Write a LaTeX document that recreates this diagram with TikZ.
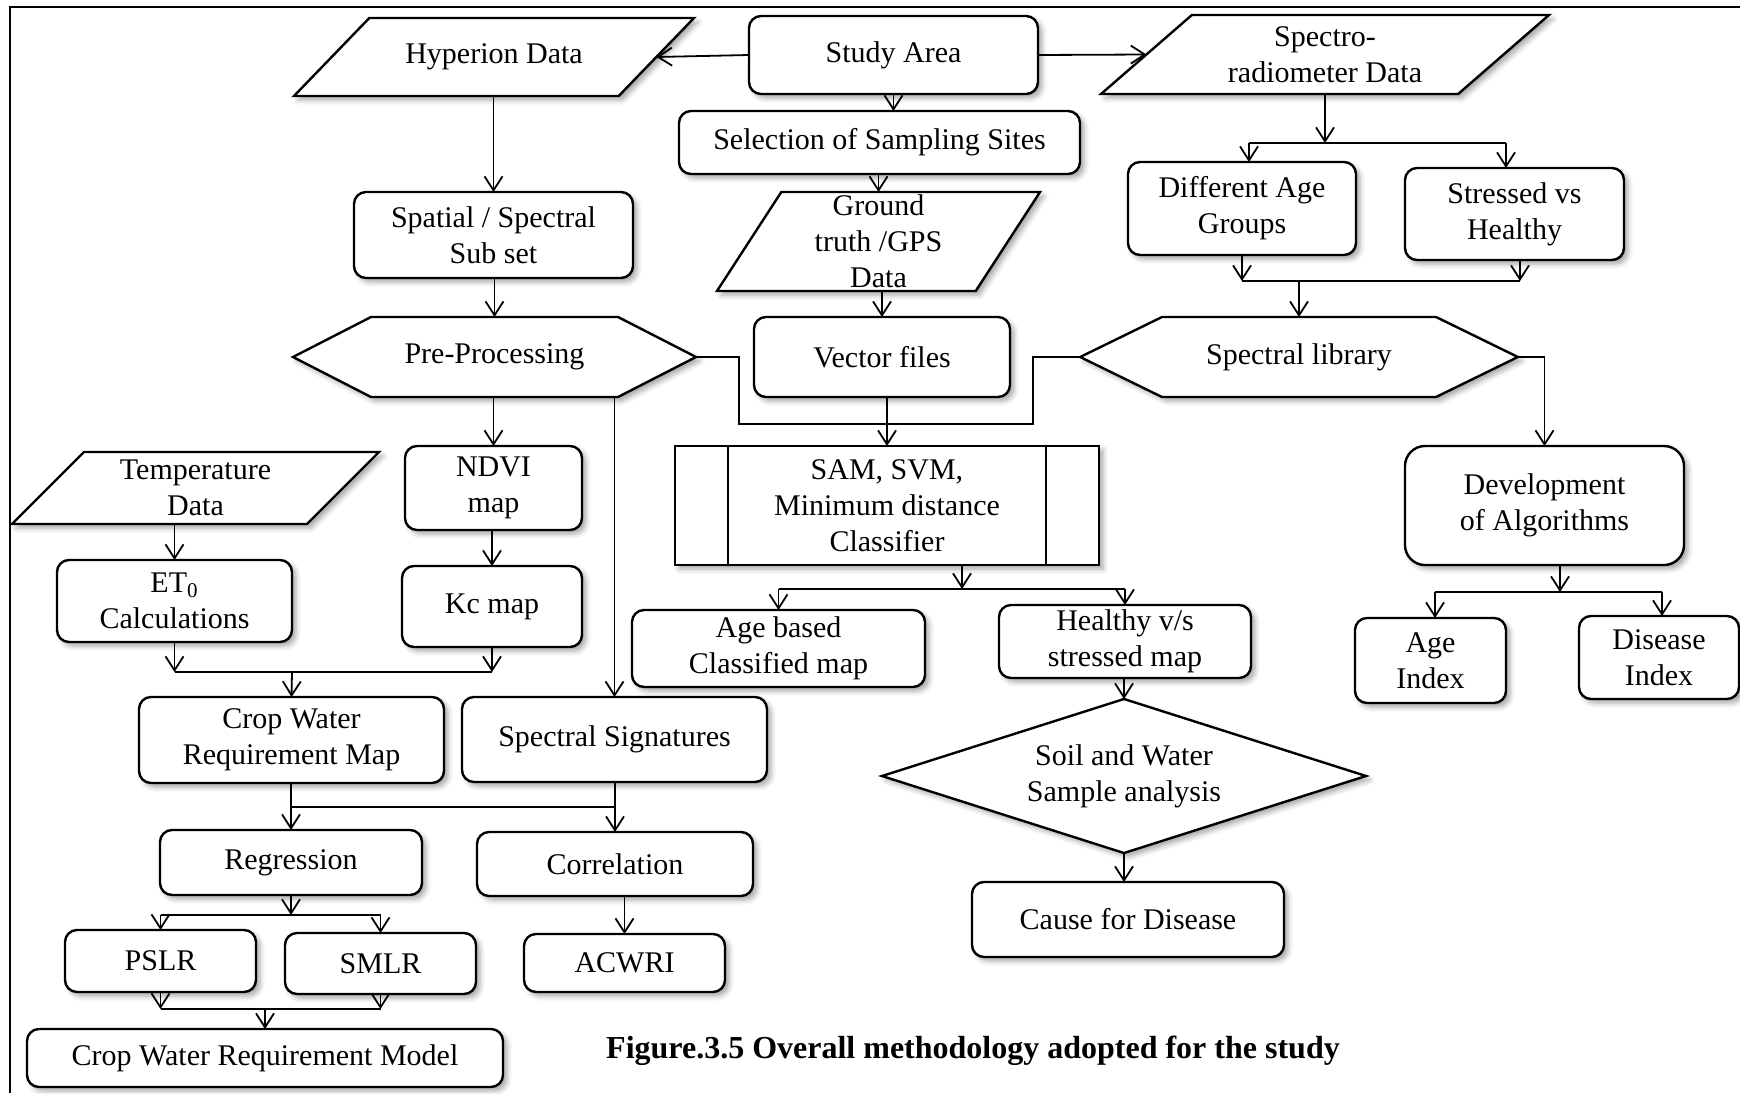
\documentclass[tikz,border=0pt]{standalone}
\usepackage{fontspec}
\setmainfont{Liberation Serif}
\usetikzlibrary{arrows.meta, shapes.geometric, shapes.symbols, shadows.blur}

\begin{document}
\begin{tikzpicture}[x=0.5pt,y=-0.5pt,font=\fontsize{15}{18}\selectfont,
>={Straight Barb[length=7pt,width=9pt]},
conn/.style={line width=0.9pt},
shad/.style={blur shadow={shadow xshift=2pt,shadow yshift=-2pt,shadow blur radius=2.5pt,shadow opacity=35}},
box/.style={draw,line width=1.2pt,fill=white,rounded corners=6pt,align=center,inner sep=2pt,outer sep=0pt,shad},
data/.style={draw,line width=1.2pt,fill=white,trapezium,trapezium stretches body,inner sep=0pt,outer sep=0pt,text height=#1,text depth=0pt,shad},
hexa/.style={draw,line width=1.2pt,fill=white,signal,signal to=west and east,inner sep=0pt,outer sep=0pt,text height=40pt,text depth=0pt,text width=#1,shad},
process/.style={draw,line width=1.2pt,fill=white,align=center,inner sep=2pt,outer sep=0pt,shad}]
\useasboundingbox (0,0) rectangle (1740,1093);
\draw[line width=1.2pt] (10,1093) -- (10,7) -- (1740,7);

% top row
\node[data=39pt,trapezium left angle=46,trapezium right angle=134,minimum width=200pt,label={center:Hyperion Data}] (hyperion) at (494,57) {};
\node[box,minimum width=144.5pt,minimum height=39pt] (study) at (893.5,55) {Study Area};
\node[data=39.5pt,trapezium left angle=41,trapezium right angle=139,minimum width=224pt,label={[align=center]center:Spectro-\\radiometer Data}] (spectro) at (1325,54.5) {};
\node[box,minimum width=200.5pt,minimum height=31.5pt] (select) at (879.5,142.5) {Selection of Sampling Sites};
\node[box,minimum width=139.5pt,minimum height=43pt] (spatial) at (493.5,235) {Spatial / Spectral\\Sub set};
\node[data=49.5pt,trapezium left angle=57,trapezium right angle=123,minimum width=161.5pt,label={[align=center]center:Ground\\truth /GPS\\Data}] (ground) at (878.5,241.5) {};
\node[box,minimum width=114pt,minimum height=46.5pt] (diffage) at (1242,208.5) {Different Age\\Groups};
\node[box,minimum width=109.5pt,minimum height=46pt] (stressed) at (1514.5,214) {Stressed vs\\Healthy};

% middle row
\node[hexa=123.5pt,signal pointer angle=54.3,label={center:Pre-Processing}] (pre) at (494.5,357) {};
\node[box,minimum width=128pt,minimum height=40pt] (vector) at (882,357) {Vector files};
\node[hexa=137pt,signal pointer angle=52.1,label={center:Spectral library}] (speclib) at (1299,357) {};
\node[process,minimum width=212pt,minimum height=59.5pt] (sam) at (887,505.5) {SAM, SVM,\\Minimum distance\\Classifier};
\draw[line width=1.2pt] ([xshift=26.5pt]sam.north west) -- ([xshift=26.5pt]sam.south west)
([xshift=-26.5pt]sam.north east) -- ([xshift=-26.5pt]sam.south east);
\node[data=36pt,trapezium left angle=45,trapezium right angle=135,minimum width=183.5pt,label={[align=center]center:Temperature\\Data}] (temp) at (195.5,488) {};
\node[box,minimum width=88.5pt,minimum height=42pt] (ndvi) at (493.5,488) {NDVI\\map};
\node[box,minimum width=117.5pt,minimum height=41pt] (et0) at (174.5,601) {ET\textsubscript{0}\\Calculations};
\node[box,minimum width=90pt,minimum height=40.5pt] (kc) at (492,606.5) {Kc map};
\node[box,minimum width=146.5pt,minimum height=38.5pt] (agebased) at (778.5,648.5) {Age based\\Classified map};
\node[box,minimum width=126pt,minimum height=36.5pt] (healthy) at (1125,641.5) {Healthy v/s\\stressed map};
\node[box,rounded corners=10pt,minimum width=139.5pt,minimum height=59.5pt] (devalg) at (1544.5,505.5) {Development\\of Algorithms};
\node[box,minimum width=75.5pt,minimum height=42.5pt] (ageidx) at (1430.5,660.5) {Age\\Index};
\node[box,minimum width=80pt,minimum height=41.5pt] (disidx) at (1659,657.5) {Disease\\Index};

% bottom part
\node[box,minimum width=152.5pt,minimum height=43pt] (cwrmap) at (291.5,740) {Crop Water\\Requirement Map};
\node[box,minimum width=152.5pt,minimum height=42.5pt] (specsig) at (614.5,739.5) {Spectral Signatures};
\node[draw,line width=1.2pt,fill=white,diamond,shape aspect=3.1,align=center,inner sep=0pt,outer sep=0pt,shad,minimum width=242pt,minimum height=77pt] (soil) at (1124,776) {Soil and Water\\Sample analysis};
\node[box,minimum width=131pt,minimum height=32.5pt] (regr) at (291,862.5) {Regression};
\node[box,minimum width=138pt,minimum height=32pt] (corr) at (615,864) {Correlation};
\node[box,minimum width=95.5pt,minimum height=31pt] (pslr) at (160.5,961) {PSLR};
\node[box,minimum width=95.5pt,minimum height=30.5pt] (smlr) at (380.5,963.5) {SMLR};
\node[box,minimum width=100.5pt,minimum height=29pt] (acwri) at (624.5,963) {ACWRI};
\node[box,minimum width=238pt,minimum height=29pt] (cwrmodel) at (265,1058) {Crop Water Requirement Model};
\node[box,minimum width=156pt,minimum height=37.5pt] (cause) at (1128,919.5) {Cause for Disease};
\node[font=\fontsize{16}{19}\selectfont\bfseries] (caption) at (973,1051) {Figure.3.5 Overall methodology adopted for the study};

% straight arrows
\draw[conn,->] (study.west) -- (hyperion.east);
\draw[conn,->] (study.east) -- (spectro.west);
\draw[conn,->] (study.south) -- (study.south |- select.north);
\foreach \a/\b in {select/ground,ground/vector,vector/sam,hyperion/spatial,spatial/pre,pre/ndvi,ndvi/kc,pre/specsig,temp/et0,cwrmap/regr,specsig/corr,corr/acwri,healthy/soil}
\draw[conn,->] (\b.north |- \a.south) -- (\b.north);
\draw[conn,->] (soil.south) -- (soil.south |- cause.north);

% joins into the classifier
\coordinate (j1) at (739,424);
\coordinate (j2) at (1033,424);
\draw[conn] (pre.east) -| (j1) -- (j2) |- (speclib.west);
\draw[conn,->] (speclib.east) -| (devalg.north);

% spectroradiometer split and merge
\coordinate (s1) at (1249,143);
\coordinate (s2) at (1506,143);
\draw[conn,->] (spectro.south) -- (spectro.south |- s1);
\draw[conn] (s1) -- (s2);
\draw[conn,->] (s1) -- (s1 |- diffage.north);
\draw[conn,->] (s2) -- (s2 |- stressed.north);
\coordinate (g1) at (1242,281);
\coordinate (g2) at (1520,281);
\draw[conn,->] (diffage.south) -- (diffage.south |- g1);
\draw[conn,->] (g2 |- stressed.south) -- (g2);
\draw[conn] (diffage.south |- g1) -- (g2);
\draw[conn,->] (speclib.north |- g1) -- (speclib.north);

% classifier outputs
\coordinate (c1) at (962,589);
\draw[conn,->] (c1 |- sam.south) -- (c1);
\draw[conn] (agebased.north |- c1) -- (healthy.north |- c1);
\draw[conn,->] (agebased.north |- c1) -- (agebased.north);
\draw[conn,->] (healthy.north |- c1) -- (healthy.north);

% indices
\coordinate (d1) at (1560,592);
\coordinate (d2) at (1435,592);
\coordinate (d3) at (1662,592);
\draw[conn,->] (d1 |- devalg.south) -- (d1);
\draw[conn] (d2) -- (d3);
\draw[conn,->] (d2) -- (d2 |- ageidx.north);
\draw[conn,->] (d3) -- (d3 |- disidx.north);

% crop water side
\coordinate (e1) at (292,672);
\draw[conn,->] (et0.south) -- (et0.south |- e1);
\draw[conn,->] (kc.south) -- (kc.south |- e1);
\draw[conn] (et0.south |- e1) -- (kc.south |- e1);
\draw[conn,->] (e1) -- (cwrmap.north);
\coordinate (f1) at (292,807);
\draw[conn] (f1) -- (specsig.south |- f1);
\coordinate (r1) at (291,915);
\draw[conn,->] (regr.south) -- (r1);
\draw[conn] (pslr.north |- r1) -- (smlr.north |- r1);
\draw[conn,->] (pslr.north |- r1) -- (pslr.north);
\draw[conn,->] (smlr.north |- r1) -- (smlr.north);
\coordinate (p1) at (265,1009);
\draw[conn,->] (pslr.south) -- (pslr.south |- p1);
\draw[conn,->] (smlr.south) -- (smlr.south |- p1);
\draw[conn] (pslr.south |- p1) -- (smlr.south |- p1);
\draw[conn,->] (p1) -- (cwrmodel.north);
\end{tikzpicture}
\end{document}
